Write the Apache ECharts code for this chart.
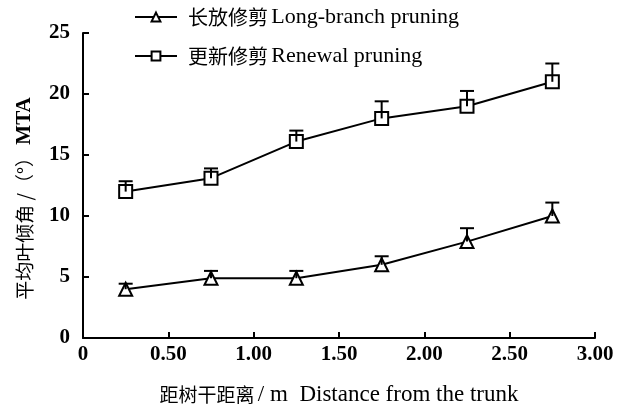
<!DOCTYPE html>
<html>
<head>
<meta charset="utf-8">
<script src="https://cdn.jsdelivr.net/npm/echarts@6/dist/echarts.min.js"></script>
<style>
  html, body { margin: 0; padding: 0; background: #fff; }
  #chart { width: 630px; height: 411px; }
</style>
</head>
<body>
<div id="chart"></div>
<script>
// Distance from the trunk (m)
var distances = [0.25, 0.75, 1.25, 1.75, 2.25, 2.75];
// Mean leaf tilt angle (°) with upper error bars
var longBranch = [4.0, 4.9, 4.9, 6.0, 7.9, 10.0];
var longBranchErr = [0.45, 0.6, 0.6, 0.7, 1.1, 1.1];
var renewal = [12.0, 13.1, 16.1, 18.0, 19.0, 21.0];
var renewalErr = [0.85, 0.8, 0.9, 1.4, 1.25, 1.5];
var seriesCn = ['长放修剪', '更新修剪'];
var seriesEn = ['Long-branch pruning', 'Renewal pruning'];
var seriesNames = [seriesCn[0] + ' ' + seriesEn[0], seriesCn[1] + ' ' + seriesEn[1]];

var SERIF = '"Liberation Serif", "Times New Roman", serif';
var CJK = '"Noto Sans CJK SC", sans-serif';

function pairs(xs, ys) {
  return xs.map(function (x, i) { return [x, ys[i]]; });
}
function errData(xs, ys, es) {
  return xs.map(function (x, i) { return [x, ys[i], ys[i] + es[i]]; });
}

// Upward error bar with a horizontal cap
function errorBar(params, api) {
  var x = api.value(0);
  var p0 = api.coord([x, api.value(1)]);
  var p1 = api.coord([x, api.value(2)]);
  var half = 7;
  var style = { stroke: '#000', lineWidth: 2 };
  return {
    type: 'group',
    children: [
      { type: 'line', shape: { x1: p0[0], y1: p0[1], x2: p1[0], y2: p1[1] }, style: style },
      { type: 'line', shape: { x1: p1[0] - half, y1: p1[1], x2: p1[0] + half, y2: p1[1] }, style: style }
    ]
  };
}

var chart = echarts.init(document.getElementById('chart'));
chart.setOption({
  animation: false,
  backgroundColor: '#fff',
  grid: { left: 83, right: 35, top: 33, bottom: 68 },
  legend: {
    orient: 'vertical',
    left: 134,
    top: 6,
    padding: 0,
    itemWidth: 42,
    itemHeight: 11,
    itemGap: 17,
    data: seriesNames,
    formatter: function (name) {
      var i = seriesNames.indexOf(name);
      return '{cn|' + seriesCn[i] + '} {en|' + seriesEn[i] + '}';
    },
    textStyle: {
      color: '#000',
      padding: [0, 0, 0, 6],
      rich: {
        cn: { fontFamily: CJK, fontSize: 20, color: '#000' },
        en: { fontFamily: SERIF, fontSize: 22, color: '#000' }
      }
    }
  },
  xAxis: {
    type: 'value',
    min: 0,
    max: 3,
    interval: 0.5,
    name: '{cn|距树干距离} {en|/ m  Distance from the trunk}',
    nameLocation: 'middle',
    nameGap: 45,
    nameTextStyle: {
      color: '#000',
      rich: {
        cn: { fontFamily: CJK, fontSize: 19, color: '#000' },
        en: { fontFamily: SERIF, fontSize: 23, color: '#000' }
      }
    },
    axisLine: { lineStyle: { color: '#000', width: 2 } },
    axisTick: { inside: true, length: 6, lineStyle: { color: '#000', width: 2 } },
    axisLabel: {
      margin: 6,
      fontFamily: SERIF, fontSize: 21, fontWeight: 'bold', color: '#000',
      formatter: function (v) { return v === 0 ? '0' : v.toFixed(2); }
    },
    splitLine: { show: false }
  },
  yAxis: {
    type: 'value',
    min: 0,
    max: 25,
    interval: 5,
    name: '{cn|平均叶倾角 /（°）} {en|MTA}',
    nameLocation: 'middle',
    nameGap: 48,
    nameTextStyle: {
      color: '#000',
      padding: [0, 26, 0, 0],
      rich: {
        cn: { fontFamily: CJK, fontSize: 19, color: '#000' },
        en: { fontFamily: SERIF, fontSize: 21, fontWeight: 'bold', color: '#000' }
      }
    },
    axisLine: { show: true, lineStyle: { color: '#000', width: 2 } },
    axisTick: { show: true, inside: true, length: 6, lineStyle: { color: '#000', width: 2 } },
    axisLabel: { margin: 13, fontFamily: SERIF, fontSize: 21, fontWeight: 'bold', color: '#000' },
    splitLine: { show: false }
  },
  series: [
    {
      name: seriesNames[0],
      type: 'line',
      data: pairs(distances, longBranch),
      symbol: 'triangle',
      symbolSize: 13,
      lineStyle: { color: '#000', width: 2 },
      itemStyle: { color: '#fff', borderColor: '#000', borderWidth: 2 },
      z: 3
    },
    {
      name: seriesNames[1],
      type: 'line',
      data: pairs(distances, renewal),
      symbol: 'rect',
      symbolSize: 13,
      lineStyle: { color: '#000', width: 2 },
      itemStyle: { color: '#fff', borderColor: '#000', borderWidth: 2 },
      z: 3
    },
    {
      type: 'custom',
      renderItem: errorBar,
      data: errData(distances, longBranch, longBranchErr),
      encode: { x: 0, y: [1, 2] },
      z: 4
    },
    {
      type: 'custom',
      renderItem: errorBar,
      data: errData(distances, renewal, renewalErr),
      encode: { x: 0, y: [1, 2] },
      z: 4
    }
  ]
});
</script>
</body>
</html>
